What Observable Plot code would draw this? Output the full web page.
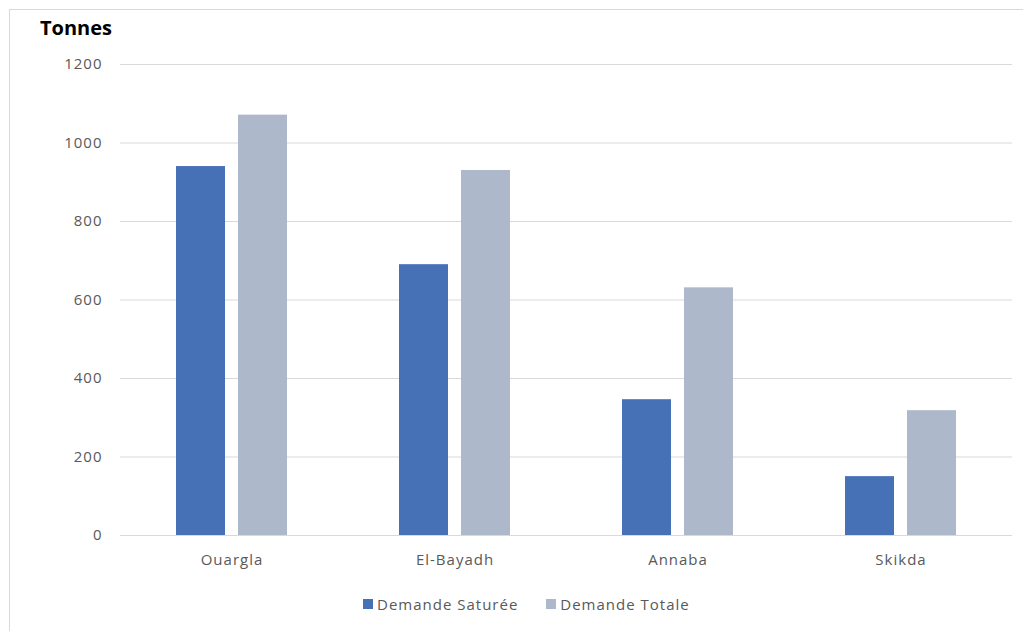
<!DOCTYPE html>
<html>
<head>
<meta charset="utf-8">
<script src="https://cdn.jsdelivr.net/npm/d3@7"></script>
<script src="https://cdn.jsdelivr.net/npm/@observablehq/plot@0.6"></script>
<style>
  body { margin: 0; background: #fff; }
  #chart { position: relative; width: 1023px; height: 631px; overflow: hidden; font-family: "Open Sans", sans-serif; background: #fff; }
  #frame { position: absolute; left: 9px; top: 9px; width: 1040px; height: 650px; border: 1px solid #d9d9d9; box-sizing: border-box; }
  #title { position: absolute; left: 40px; top: 14px; font-weight: bold; font-size: 20px; color: #000; }
  #plot { position: absolute; left: 0; top: 0; }
  #plot svg text { letter-spacing: 1px; }
  #legend { position: absolute; left: 363px; top: 594px; display: flex; align-items: center; font-size: 15px; letter-spacing: 1px; color: #595959; }
  .key { display: flex; align-items: center; margin-right: 28px; }
  .swatch { width: 10px; height: 10px; margin-right: 4px; }
</style>
</head>
<body>
<div id="chart">
  <div id="frame"></div>
  <div id="title">Tonnes</div>
  <div id="plot"></div>
  <div id="legend"></div>
</div>
<script>
// Demand per city, in tonnes
const cities = ["Ouargla", "El-Bayadh", "Annaba", "Skikda"];
const series = ["Demande Saturée", "Demande Totale"];
const saturee = [940, 690, 346, 150];
const totale = [1071, 930, 631, 318];
const yTicks = [0, 200, 400, 600, 800, 1000, 1200];
const colors = ["#4671b7", "#adb9ca"];

const rows = cities.flatMap((city, i) => [
  {city, series: series[0], value: saturee[i]},
  {city, series: series[1], value: totale[i]}
]);

const chart = Plot.plot({
  width: 1023,
  height: 585,
  marginLeft: 120,
  marginRight: 11,
  marginTop: 64,
  marginBottom: 50,
  style: {fontFamily: "Open Sans, sans-serif", fontSize: "15px", color: "#595959", background: "transparent"},
  fx: {domain: cities, padding: 0, axis: "bottom", label: null, tickSize: 0, tickPadding: 19},
  x: {domain: series, paddingInner: 0.206, paddingOuter: 0.873, axis: null},
  y: {domain: [0, 1200], ticks: yTicks, tickSize: 0, tickPadding: 18, tickFormat: d => String(d), label: null},
  color: {domain: series, range: colors},
  marks: [
    Plot.gridY(yTicks, {stroke: "#d9d9d9", strokeOpacity: 1, strokeWidth: 1.2}),
    Plot.barY(rows, {fx: "city", x: "series", y: "value", fill: "series"})
  ]
});
document.getElementById("plot").appendChild(chart);

// Legend
const legend = document.getElementById("legend");
series.forEach((s, i) => {
  const key = document.createElement("div");
  key.className = "key";
  const sw = document.createElement("div");
  sw.className = "swatch";
  sw.style.background = colors[i];
  const label = document.createElement("span");
  label.textContent = s;
  key.appendChild(sw);
  key.appendChild(label);
  legend.appendChild(key);
});
</script>
</body>
</html>
